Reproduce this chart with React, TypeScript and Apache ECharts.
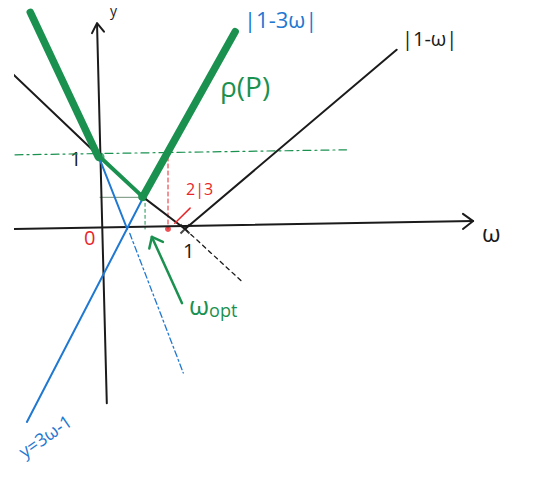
import React, { useEffect, useRef } from "react";
import * as echarts from "echarts";

// Math coordinates: x = ω, y = value
const xAxisLine = [[-1.09, 0], [4.39, 0.11]];
const xAxisArrow = [[4.27, 0.21], [4.39, 0.11], [4.27, 0.0]];
const yAxisLine = [[0.08, -2.42], [-0.035, 2.85]];
const yAxisArrow = [[-0.094, 2.72], [-0.035, 2.86], [0.047, 2.74]];

const absOneMinusW = [[-1.04, 2.17], [0, 1.0], [0.5, 0.45], [1.0, 0], [3.49, 2.49]];
const oneMinusWDashed = [[1.0, 0], [1.68, -0.74]];

const rhoLeft = [[-0.82, 3.01], [-0.02, 1.0]];
const rhoMid = [[0, 1.0], [0.5, 0.45]];
const rhoRight = [[0.5, 0.44], [1.59, 2.74]];
const rhoDots = [[0, 1.0], [0.5, 0.45]];

const oneMinus3W = [[0, 0.96], [0.32, 0]];
const threeWMinus1 = [[-0.86, -2.68], [0.51, 0.44]];
const oneMinus3WDashed = [[0.35, -0.06], [0.98, -2.0]];

const levelOne = [[-1.0, 1.03], [2.9, 1.1]];
const levelOpt = [[0, 0.44], [0.48, 0.44]];
const optVertical = [[0.53, 0.44], [0.53, 0]];
const twoThirdsVertical = [[0.8, 1.0], [0.8, 0]];
const twoThirdsDot = [[0.8, 0]];
const twoThirdsPointer = [[1.06, 0.29], [0.88, 0.08]];
const oneTick = [[1.0, 0]];

const optArrow = [[0.965, -1.03], [0.61, -0.11]];
const optArrowHead = [[0.58, -0.27], [0.61, -0.11], [0.74, -0.18]];

const GREEN = "#1b9150";
const BLUE = "#1f78d1";
const RED = "#e8262a";
const BLACK = "#1b1b1b";

function ln(data: number[][], color: string, width: number, type: any = "solid", extra: any = {}) {
  return {
    type: "line",
    data,
    symbol: "none",
    clip: false,
    silent: true,
    lineStyle: { color, width, type, cap: "round", join: "round" },
    ...extra,
  };
}

export default function App() {
  const ref = useRef<HTMLDivElement>(null);
  useEffect(() => {
    if (!ref.current) return;
    const chart = echarts.init(ref.current, undefined, { renderer: "svg" });
    const font = "'Open Sans', 'Noto Sans', sans-serif";
    chart.setOption({
      animation: false,
      backgroundColor: "#ffffff",
      grid: { left: 15, top: 13, width: 510, height: 432 },
      xAxis: { type: "value", min: -1, max: 5, show: false },
      yAxis: { type: "value", min: -3, max: 3, show: false },
      series: [
        ln(levelOne, GREEN, 1.2, [8, 4, 2, 4]),
        ln(levelOpt, "#6f8f78", 1),
        ln(optVertical, GREEN, 1, [3, 3]),
        ln(twoThirdsVertical, RED, 1, [4, 3]),
        ln(xAxisLine, BLACK, 2),
        ln(xAxisArrow, BLACK, 2),
        ln(yAxisLine, BLACK, 2),
        ln(yAxisArrow, BLACK, 2),
        ln(oneMinusWDashed, BLACK, 1.3, [4, 4]),
        ln(absOneMinusW, BLACK, 2),
        ln(oneMinus3WDashed, BLUE, 1.3, [6, 3, 2, 3]),
        ln(oneMinus3W, BLUE, 2),
        ln(threeWMinus1, BLUE, 2),
        ln(rhoLeft, GREEN, 7.5),
        ln(rhoMid, GREEN, 4),
        ln(rhoRight, GREEN, 7.5),
        {
          type: "scatter",
          data: rhoDots,
          symbolSize: 9,
          clip: false,
          silent: true,
          itemStyle: { color: GREEN },
        },
        {
          type: "scatter",
          data: twoThirdsDot,
          symbolSize: 6,
          clip: false,
          silent: true,
          itemStyle: { color: RED },
        },
        {
          type: "scatter",
          data: oneTick,
          symbol: "path://M0,0L10,10M10,0L0,10",
          symbolSize: 9,
          clip: false,
          silent: true,
          itemStyle: { color: "none", borderColor: BLACK, borderWidth: 2 },
        },
        ln(twoThirdsPointer, RED, 1.5),
        ln(optArrow, GREEN, 2.5),
        ln(optArrowHead, GREEN, 2.5),
      ],
      graphic: [
        { type: "text", left: 110, top: 3, style: { text: "y", font: `14px ${font}`, fill: BLACK } },
        { type: "text", left: 244, top: 8, style: { text: "|1-3ω|", font: `22px ${font}`, fill: BLUE } },
        { type: "text", left: 402, top: 28, style: { text: "|1-ω|", font: `20px ${font}`, fill: BLACK } },
        { type: "text", left: 220, top: 72, style: { text: "ρ(P)", font: `28px ${font}`, fill: GREEN } },
        { type: "text", left: 482, top: 220, style: { text: "ω", font: `24px ${font}`, fill: BLACK } },
        {
          type: "text",
          left: 189,
          top: 292,
          style: {
            text: "{a|ω}{b|opt}",
            rich: {
              a: { font: `26px ${font}`, fill: GREEN, color: GREEN },
              b: { font: `18px ${font}`, fill: GREEN, color: GREEN, padding: [10, 0, 0, 0] },
            },
          },
        },
        { type: "text", left: 186, top: 181, style: { text: "2|3", font: `16px ${font}`, fill: RED } },
        { type: "text", left: 84, top: 227, style: { text: "0", font: `20px ${font}`, fill: RED } },
        { type: "text", left: 183, top: 240, style: { text: "1", font: `20px ${font}`, fill: BLACK } },
        { type: "text", left: 70, top: 148, style: { text: "1", font: `20px ${font}`, fill: BLACK } },
        {
          type: "text",
          x: 45,
          y: 436,
          rotation: (35 * Math.PI) / 180,
          style: {
            text: "y=3ω-1",
            font: `18px ${font}`,
            fill: BLUE,
            align: "center",
            verticalAlign: "middle",
          },
        },
      ],
    });
    return () => chart.dispose();
  }, []);
  return (
    <div
      ref={ref}
      style={{ position: "fixed", left: 0, top: 0, width: 557, height: 490, background: "#fff" }}
    />
  );
}
